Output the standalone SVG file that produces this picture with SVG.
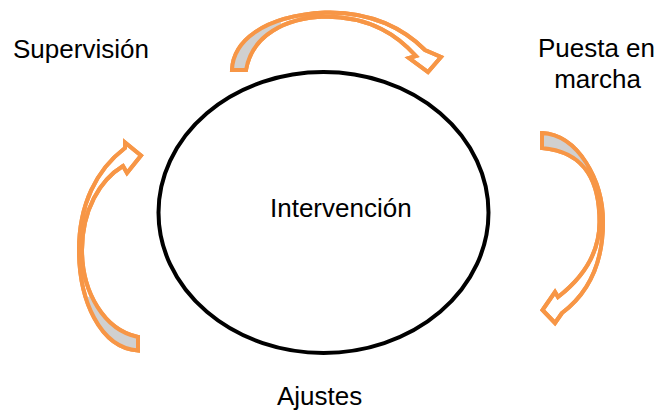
<svg xmlns="http://www.w3.org/2000/svg" xmlns:xlink="http://www.w3.org/1999/xlink" width="658" height="413" viewBox="0 0 658 413">
<style>
.lbl{font-family:"Liberation Sans",Arial,sans-serif;font-size:26px;fill:#000}
.arw{fill:#fff;stroke:#F79646;stroke-width:4;stroke-linejoin:miter}
.edge{fill:none;stroke:#F79646;stroke-width:4;stroke-linejoin:miter}
.gray{fill:#D0D0D0}
</style>
<defs>
<path id="aTop" d="M232,70 C233,42 262,16 325,12.5 C372,11 405,30 425,50 L441,57 L428,72 L409,58 L416,56 C398,36 372,17 325,16.5 C285,18 252,35 246,70 Z"/>
<path id="aRight" d="M542,133 C578,135 603,180 603,222 C603,262 590,292 562,313 L555,323 L542.5,310 L555,292 L558,297 C580,280 599.5,255 599.5,222 C599.5,185 588,152 542,148 Z"/>
<path id="aLeft" d="M138,350.5 C100,348 79,300 79,250 C79,205 96,170 125,148 L125,142.5 L141,155.5 L127,173 L123,166 C100,180 82,210 82,250 C82,292 104,330 138,337 Z"/>
<clipPath id="cTop"><use xlink:href="#aTop"/></clipPath>
<clipPath id="cRight"><use xlink:href="#aRight"/></clipPath>
<clipPath id="cLeft"><use xlink:href="#aLeft"/></clipPath>
</defs>
<g id="connectors">
<g id="arrow-top">
<use xlink:href="#aTop" class="arw"/>
<rect class="gray" x="220" y="0" width="61" height="80" clip-path="url(#cTop)"/>
<use xlink:href="#aTop" class="edge"/>
</g>
<g id="arrow-right">
<use xlink:href="#aRight" class="arw"/>
<rect class="gray" x="530" y="120" width="90" height="63" clip-path="url(#cRight)"/>
<use xlink:href="#aRight" class="edge"/>
</g>
<g id="arrow-left">
<use xlink:href="#aLeft" class="arw"/>
<rect class="gray" x="60" y="297" width="90" height="65" clip-path="url(#cLeft)"/>
<use xlink:href="#aLeft" class="edge"/>
</g>
</g>
<g id="node-intervencion">
<ellipse cx="323.5" cy="212.5" rx="165" ry="140.5" fill="#fff" stroke="#000" stroke-width="4"/>
<text class="lbl" x="270" y="217">Intervención</text>
</g>
<g id="node-supervision">
<text class="lbl" x="13" y="58">Supervisión</text>
</g>
<g id="node-puesta">
<text class="lbl" x="596.5" y="57" text-anchor="middle">Puesta en</text>
<text class="lbl" x="597.5" y="88" text-anchor="middle">marcha</text>
</g>
<g id="node-ajustes">
<text class="lbl" x="277" y="405">Ajustes</text>
</g>
</svg>
